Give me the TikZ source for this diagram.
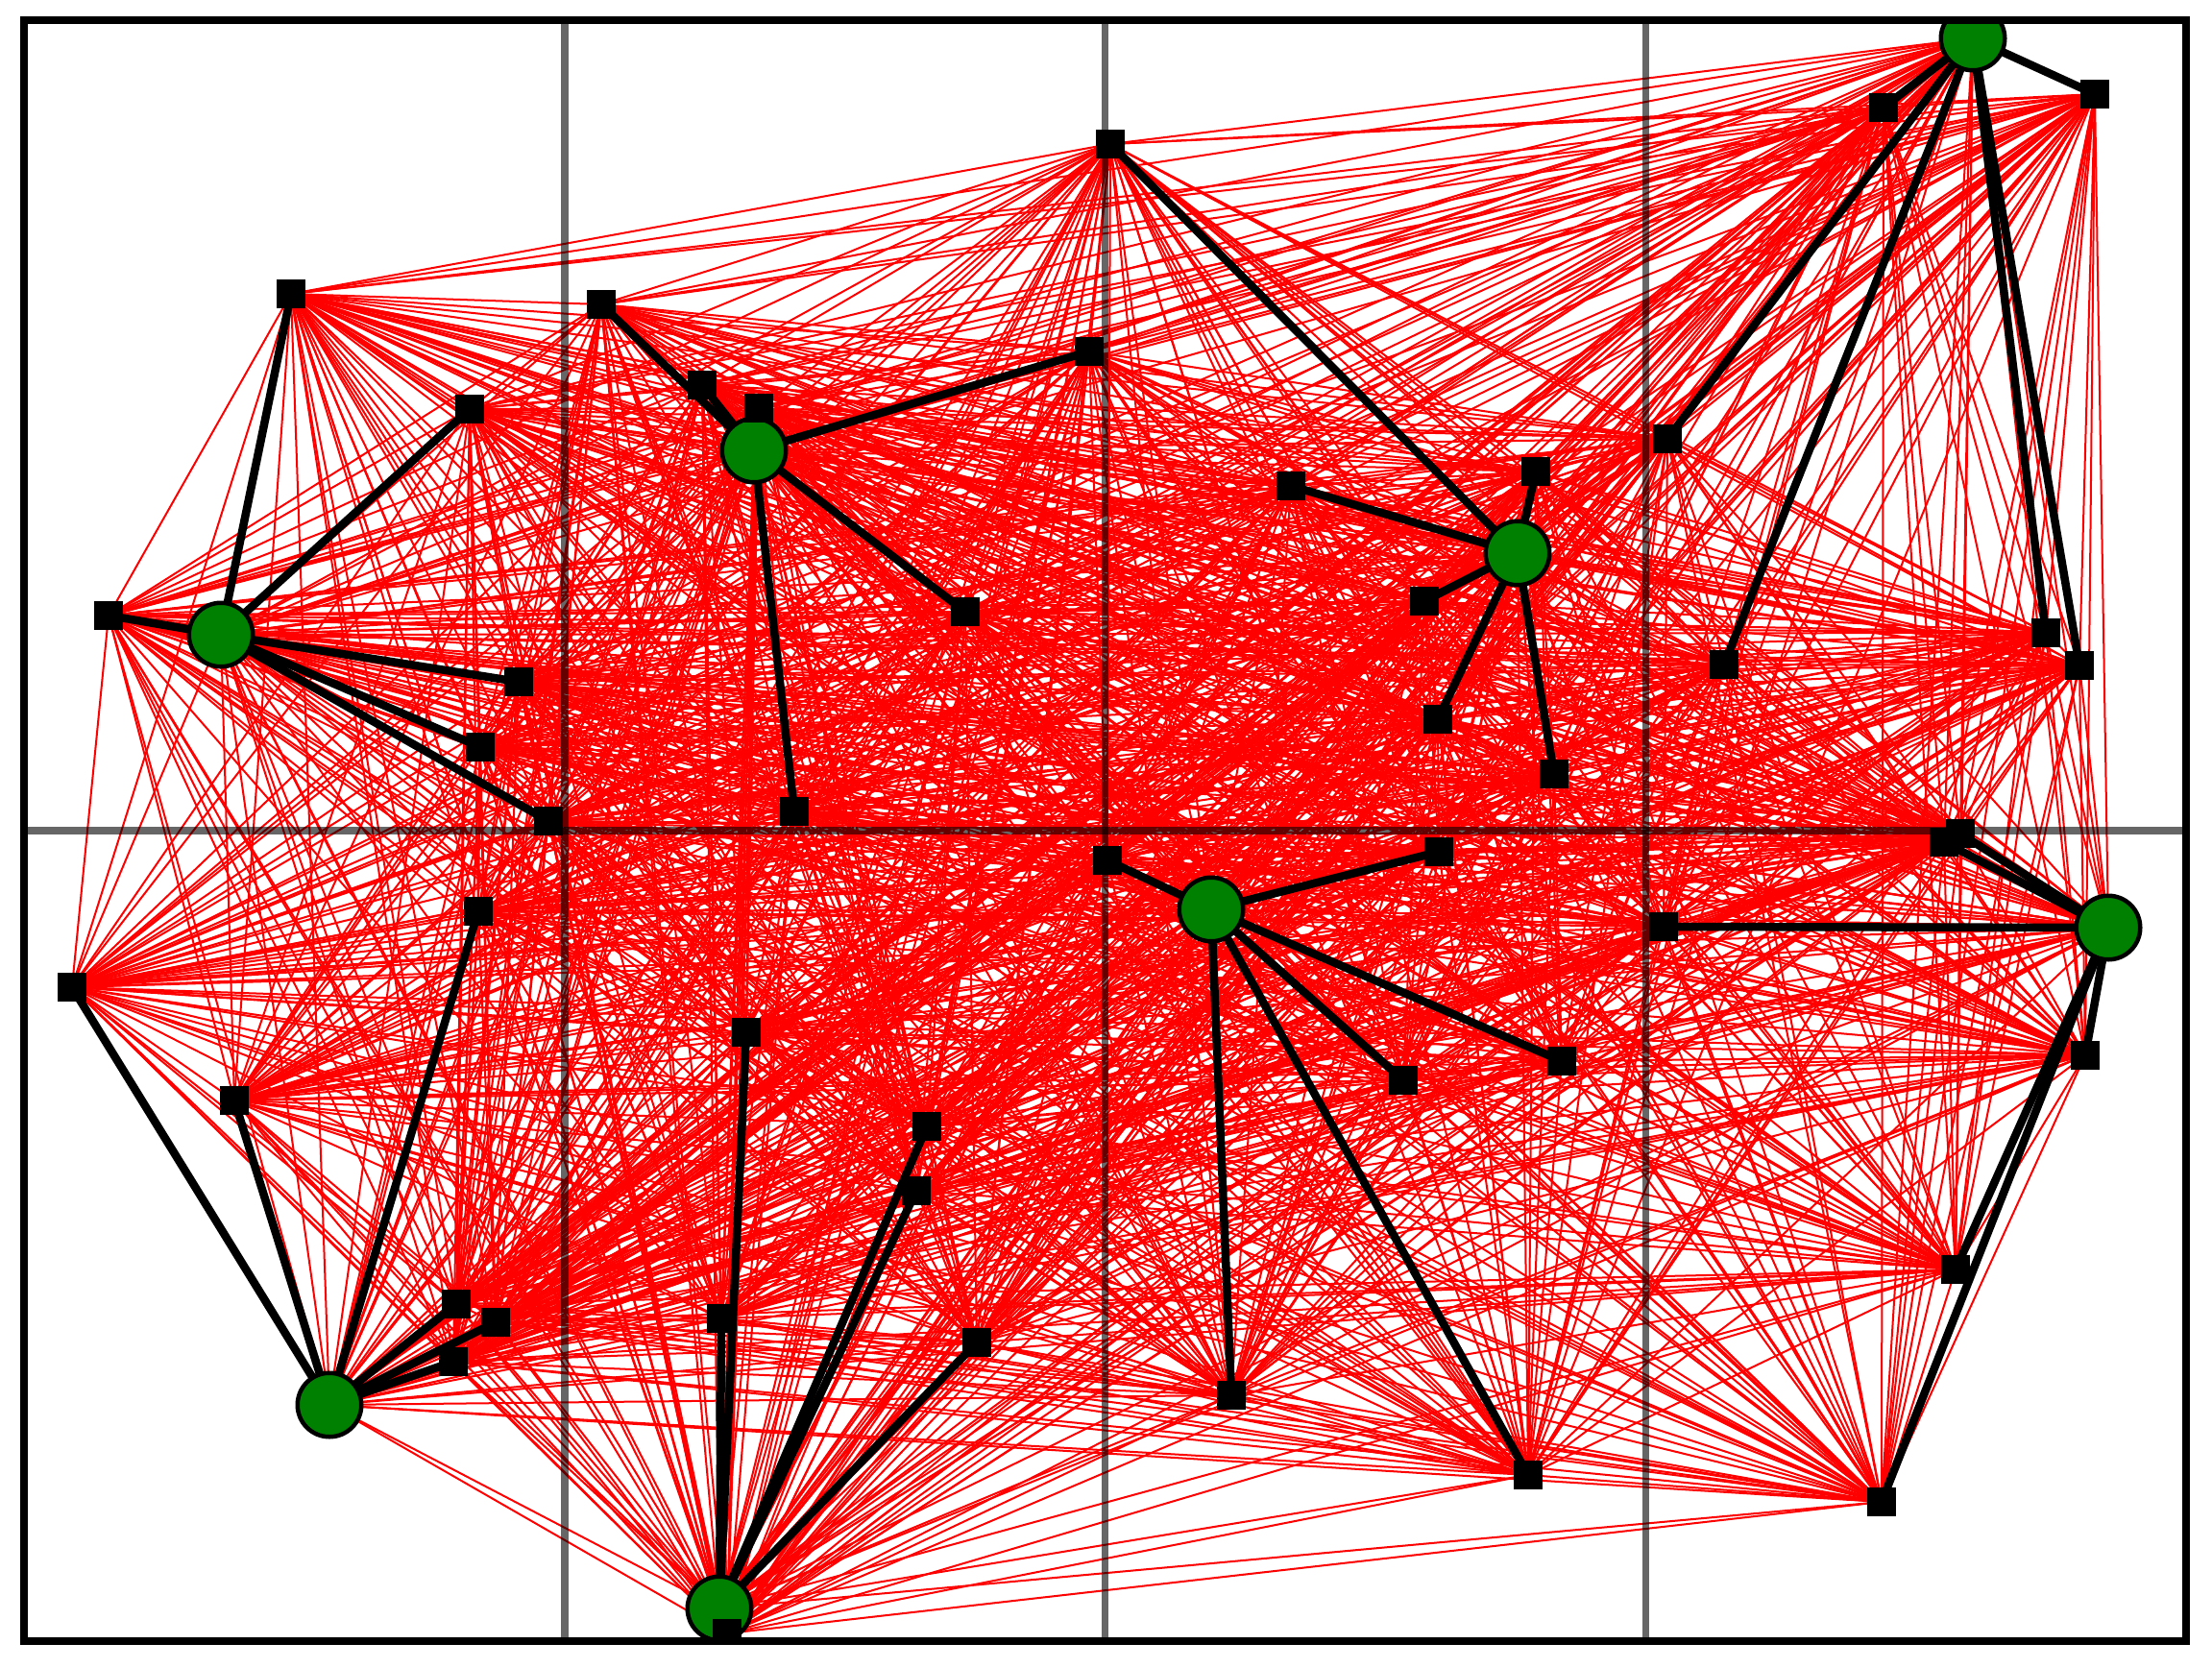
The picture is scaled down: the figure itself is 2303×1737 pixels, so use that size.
\documentclass[tikz,border=0pt]{standalone}
\definecolor{facgreen}{RGB}{0,128,0}
\tikzset{
 redline/.style={draw=red, line width=2pt},
 gridline/.style={draw=black, draw opacity=0.6, line width=7.5pt},
 assign/.style={draw=black, line width=8.5pt},
 customer/.style={rectangle, fill=black, minimum size=30pt, inner sep=0pt},
 facility/.style={circle, fill=facgreen, draw=black, line width=4.5pt, minimum size=66.5pt, inner sep=0pt},
 framebox/.style={draw=black, line width=8pt},
}
\begin{document}
\begin{tikzpicture}[x=1pt,y=-1pt]
\useasboundingbox (0,0) rectangle (2303,1737);
% facilities
\coordinate (n1) at (2054,40);
\coordinate (n2) at (785,469);
\coordinate (n3) at (230,661);
\coordinate (n4) at (1580,576);
\coordinate (n5) at (1261,947);
\coordinate (n6) at (2195,966);
\coordinate (n7) at (343,1463);
\coordinate (n8) at (749,1675);
% customers
\coordinate (n9) at (1156,150);
\coordinate (n10) at (1961,112);
\coordinate (n11) at (2181,98);
\coordinate (n12) at (303,306);
\coordinate (n13) at (626,317);
\coordinate (n14) at (1134,366);
\coordinate (n15) at (731,401);
\coordinate (n16) at (790,425);
\coordinate (n17) at (489,426);
\coordinate (n18) at (1736,457);
\coordinate (n19) at (1599,491);
\coordinate (n20) at (1344,506);
\coordinate (n21) at (1005,637);
\coordinate (n22) at (1483,626);
\coordinate (n23) at (113,641);
\coordinate (n24) at (2130,659);
\coordinate (n25) at (2165,693);
\coordinate (n26) at (1795,692);
\coordinate (n27) at (540,710);
\coordinate (n28) at (500,778);
\coordinate (n29) at (1497,749);
\coordinate (n30) at (1618,806);
\coordinate (n31) at (827,845);
\coordinate (n32) at (571,855);
\coordinate (n33) at (2041,868);
\coordinate (n34) at (2024,877);
\coordinate (n35) at (1153,896);
\coordinate (n36) at (1498,887);
\coordinate (n37) at (498,949);
\coordinate (n38) at (1732,965);
\coordinate (n39) at (75,1028);
\coordinate (n40) at (777,1075);
\coordinate (n41) at (1626,1105);
\coordinate (n42) at (1461,1125);
\coordinate (n43) at (2171,1099);
\coordinate (n44) at (244,1146);
\coordinate (n45) at (965,1173);
\coordinate (n46) at (954,1240);
\coordinate (n47) at (2036,1322);
\coordinate (n48) at (475,1358);
\coordinate (n49) at (516,1377);
\coordinate (n50) at (472,1418);
\coordinate (n51) at (751,1373);
\coordinate (n52) at (1017,1398);
\coordinate (n53) at (1282,1453);
\coordinate (n54) at (1591,1536);
\coordinate (n55) at (1959,1564);
\coordinate (n56) at (757,1701);
\begin{scope}
\clip (25,21) rectangle (2276,1709);
% all pairwise red links
\foreach \i in {1,...,55}{
  \pgfmathtruncatemacro{\k}{\i+1}
  \foreach \j in {\k,...,56}{ \draw[redline] (n\i) -- (n\j); }
}
% grid
\draw[gridline] (587.75,21) -- (587.75,1709);
\draw[gridline] (1150.5,21) -- (1150.5,1709);
\draw[gridline] (1713.25,21) -- (1713.25,1709);
\draw[gridline] (25,865) -- (2276,865);
% assignments
\foreach \f/\c in {1/10,1/11,1/18,1/24,1/25,1/26,
                   2/13,2/14,2/15,2/16,2/21,2/31,
                   3/12,3/17,3/23,3/27,3/28,3/32,
                   4/9,4/19,4/20,4/22,4/29,4/30,
                   5/35,5/36,5/41,5/42,5/53,5/54,
                   6/33,6/34,6/38,6/43,6/47,6/55,
                   7/37,7/39,7/44,7/48,7/49,7/50,
                   8/40,8/45,8/46,8/51,8/52,8/56}
  { \draw[assign] (n\f) -- (n\c); }
\foreach \i in {1,...,8} { \node[facility] (fac\i) at (n\i) {}; }
\foreach \i in {9,...,56} { \node[customer] (cus\i) at (n\i) {}; }
\end{scope}
\draw[framebox] (25,21) rectangle (2276,1709);
\end{tikzpicture}
\end{document}
